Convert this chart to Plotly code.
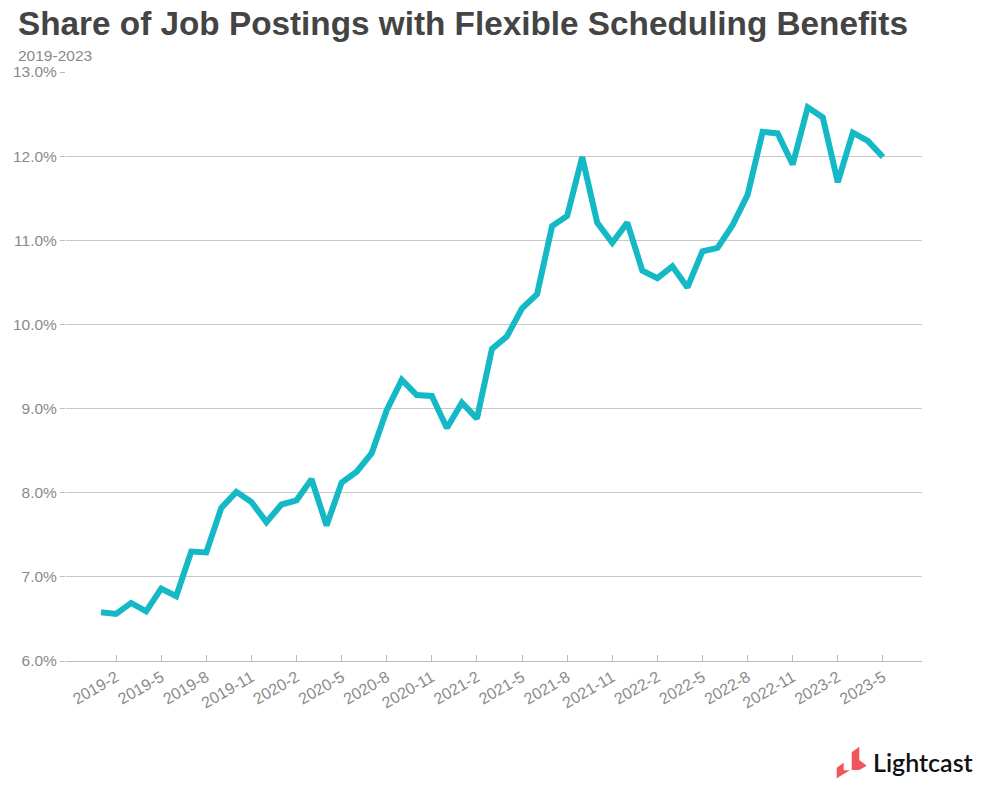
import plotly.graph_objects as go

years_months = [(y, m) for y in range(2019, 2024) for m in range(1, 13)][:53]
months = [f"{y}-{m}" for y, m in years_months]

share = [6.58, 6.56, 6.69, 6.59, 6.86, 6.77, 7.30, 7.29, 7.82, 8.01,
         7.89, 7.65, 7.86, 7.91, 8.16, 7.61, 8.12, 8.25, 8.47, 8.98,
         9.34, 9.16, 9.15, 8.77, 9.07, 8.88, 9.71, 9.86, 10.19, 10.36,
         11.17, 11.29, 11.99, 11.21, 10.97, 11.21, 10.64, 10.55, 10.69, 10.44,
         10.87, 10.91, 11.18, 11.54, 12.29, 12.27, 11.90, 12.58, 12.46, 11.69,
         12.28, 12.18, 11.99]

tick_labels = months[1::3]

W, H = 983, 788
L, R, T, B = 66, 922, 72, 661

def px(x, y):
    return (x - L) / (R - L), (B - y) / (B - T)

def path(pts):
    s = ""
    for i, (x, y) in enumerate(pts):
        a, b = px(x, y)
        s += ("M" if i == 0 else "L") + f"{a:.5f},{b:.5f} "
    return s + "Z"

fig = go.Figure()
fig.add_trace(go.Scatter(
    x=months, y=share, mode="lines",
    line=dict(color="#14B9C5", width=6),
    hoverinfo="x+y",
))

icon1 = [(851.7, 752.3), (859.3, 746.7), (859.3, 760.0), (866.7, 765.7), (859.3, 770.0), (851.7, 770.0)]
icon2 = [(836.7, 767.7), (843.7, 762.7), (843.7, 770.3), (850.0, 770.3), (836.7, 778.3)]

fig.update_layout(
    width=W, height=H,
    margin=dict(l=L, r=W - R, t=T, b=H - B, autoexpand=False),
    paper_bgcolor="white", plot_bgcolor="white",
    font=dict(family="Liberation Sans, Arial, sans-serif", color="#8a8a8a", size=15),
    showlegend=False,
    title=dict(
        text="<b>Share of Job Postings with Flexible Scheduling Benefits</b>",
        xref="container", yref="container", x=18 / W, xanchor="left",
        y=1 - 23 / H, yanchor="middle",
        font=dict(family="Liberation Sans, Arial, sans-serif", size=33.3, color="#444444"),
    ),
    xaxis=dict(
        type="category",
        range=[-2.33, 54.6],
        tickmode="array", tickvals=tick_labels, ticktext=tick_labels,
        tickangle=-30,
        showgrid=False, zeroline=False,
        showline=True, linecolor="#bbbbbb", linewidth=1,
        ticks="inside", ticklen=6, tickcolor="#bbbbbb",
        tickfont=dict(size=16, color="#8a8a8a"),
    ),
    yaxis=dict(
        range=[6, 13], dtick=1, tick0=6,
        tickformat=".1f", ticksuffix="%",
        showgrid=True, gridcolor="#c8c8c8", gridwidth=1,
        zeroline=False, showline=False,
        ticks="outside", ticklen=5, tickcolor="#bbbbbb",
        tickfont=dict(size=15.5, color="#8a8a8a"),
    ),
    annotations=[
        dict(text="2019-2023", xref="paper", yref="paper",
             x=px(16, 0)[0], y=px(0, 56)[1], xanchor="left", yanchor="middle",
             showarrow=False, font=dict(size=15.5, color="#8a8a8a")),
        dict(text="Lightcast", xref="paper", yref="paper",
             x=px(871, 0)[0], y=px(0, 762)[1], xanchor="left", yanchor="middle",
             showarrow=False, font=dict(family="Lato, Roboto, sans-serif", size=25, color="#111111", weight=600)),
    ],
    shapes=[
        dict(type="path", xref="paper", yref="paper", path=path(icon1),
             fillcolor="#F2545B", line=dict(width=0)),
        dict(type="path", xref="paper", yref="paper", path=path(icon2),
             fillcolor="#F2545B", line=dict(width=0)),
    ],
)

fig.write_html("out.html", config={"displayModeBar": False},
               post_script="document.body.style.margin='0';document.body.style.overflow='hidden';")
